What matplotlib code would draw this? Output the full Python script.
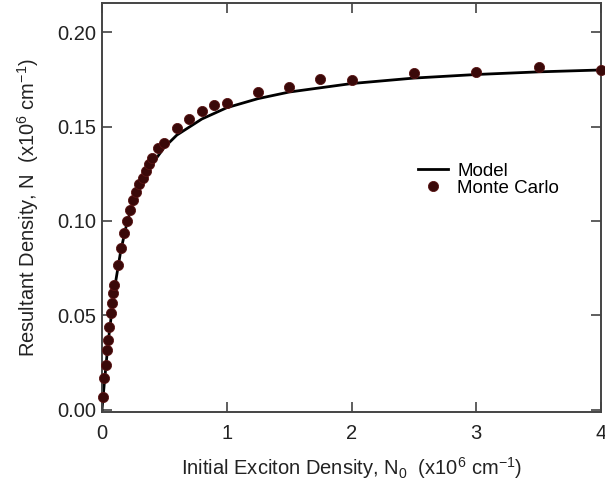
import matplotlib.pyplot as plt
from matplotlib.ticker import MultipleLocator

plt.rcParams['font.family'] = ['Liberation Sans', 'DejaVu Sans']
plt.rcParams['mathtext.fontset'] = 'custom'
plt.rcParams['mathtext.rm'] = 'Liberation Sans'
plt.rcParams['mathtext.it'] = 'Liberation Sans:italic'

# Monte Carlo points
mc_x = [0.01, 0.02, 0.03, 0.04, 0.05, 0.06, 0.07, 0.08, 0.09, 0.10,
        0.125, 0.15, 0.175, 0.2, 0.225, 0.25, 0.275, 0.3, 0.325, 0.35,
        0.375, 0.4, 0.45, 0.5, 0.6, 0.7, 0.8, 0.9, 1.0,
        1.25, 1.5, 1.75, 2.0, 2.5, 3.0, 3.5, 4.0]
mc_y = [0.0068, 0.0165, 0.0236, 0.0315, 0.0368, 0.0439, 0.0510, 0.0563, 0.0616, 0.0660,
        0.0766, 0.0855, 0.0934, 0.1000, 0.1058, 0.1110, 0.1155, 0.1195, 0.1230, 0.1266,
        0.1300, 0.1332, 0.1385, 0.1415, 0.1490, 0.1539, 0.1580, 0.1615, 0.1627,
        0.1685, 0.1708, 0.1750, 0.1747, 0.1786, 0.1790, 0.1814, 0.1800]

# model curve
model_x = [0, 0.01, 0.02, 0.05, 0.1, 0.15, 0.2, 0.25, 0.3, 0.4, 0.5, 0.6, 0.8,
           1.0, 1.25, 1.5, 2.0, 2.5, 3.0, 3.5, 4.0]
model_y = [0, 0.0075, 0.0150, 0.0360, 0.0640, 0.0840, 0.0990, 0.1100, 0.1180, 0.1300,
           0.1390, 0.1455, 0.1540, 0.1600, 0.1648, 0.1683, 0.1728, 0.1757, 0.1776,
           0.1790, 0.1800]

fig = plt.figure(figsize=(6.05, 4.87), dpi=100)
ax = fig.add_axes([102/605, 75/487, 499/605, 409/487])

ax.plot(model_x, model_y, color='black', lw=2.0, label='Model', zorder=2)
ax.plot(mc_x, mc_y, 'o', ms=7.3, mfc='#3a0909', mec='#5a1414', mew=0.6,
        label='Monte Carlo', clip_on=False, zorder=3)

ax.set_xlim(0, 4)
ax.set_ylim(-0.0013, 0.2155)
ax.xaxis.set_major_locator(MultipleLocator(1))
ax.yaxis.set_major_locator(MultipleLocator(0.05))
ax.yaxis.set_major_formatter(plt.FormatStrFormatter('%.2f'))
ax.tick_params(direction='in', length=7, width=1.1, colors='#333333',
               labelcolor='#222222', labelsize=14.5, top=True, right=True)
ax.tick_params(axis='x', pad=8.5)
ax.tick_params(axis='y', pad=4)
for s in ax.spines.values():
    s.set_linewidth(1.4)
    s.set_color('#444444')

ax.set_xlabel(r'Initial Exciton Density, N$_0$  (x10$^6$ cm$^{-1}$)',
              fontsize=14.5, color='#222222', labelpad=9)
ax.set_ylabel(r'Resultant Density, N  (x10$^6$ cm$^{-1}$)',
              fontsize=14.5, color='#222222', labelpad=12)

ax.legend(loc='upper left', bbox_to_anchor=(0.633, 0.61), frameon=False,
          fontsize=13.5, handlelength=1.6, handletextpad=0.5,
          labelspacing=0.0, borderpad=0, borderaxespad=0)

fig.savefig('out.png', dpi=100)
